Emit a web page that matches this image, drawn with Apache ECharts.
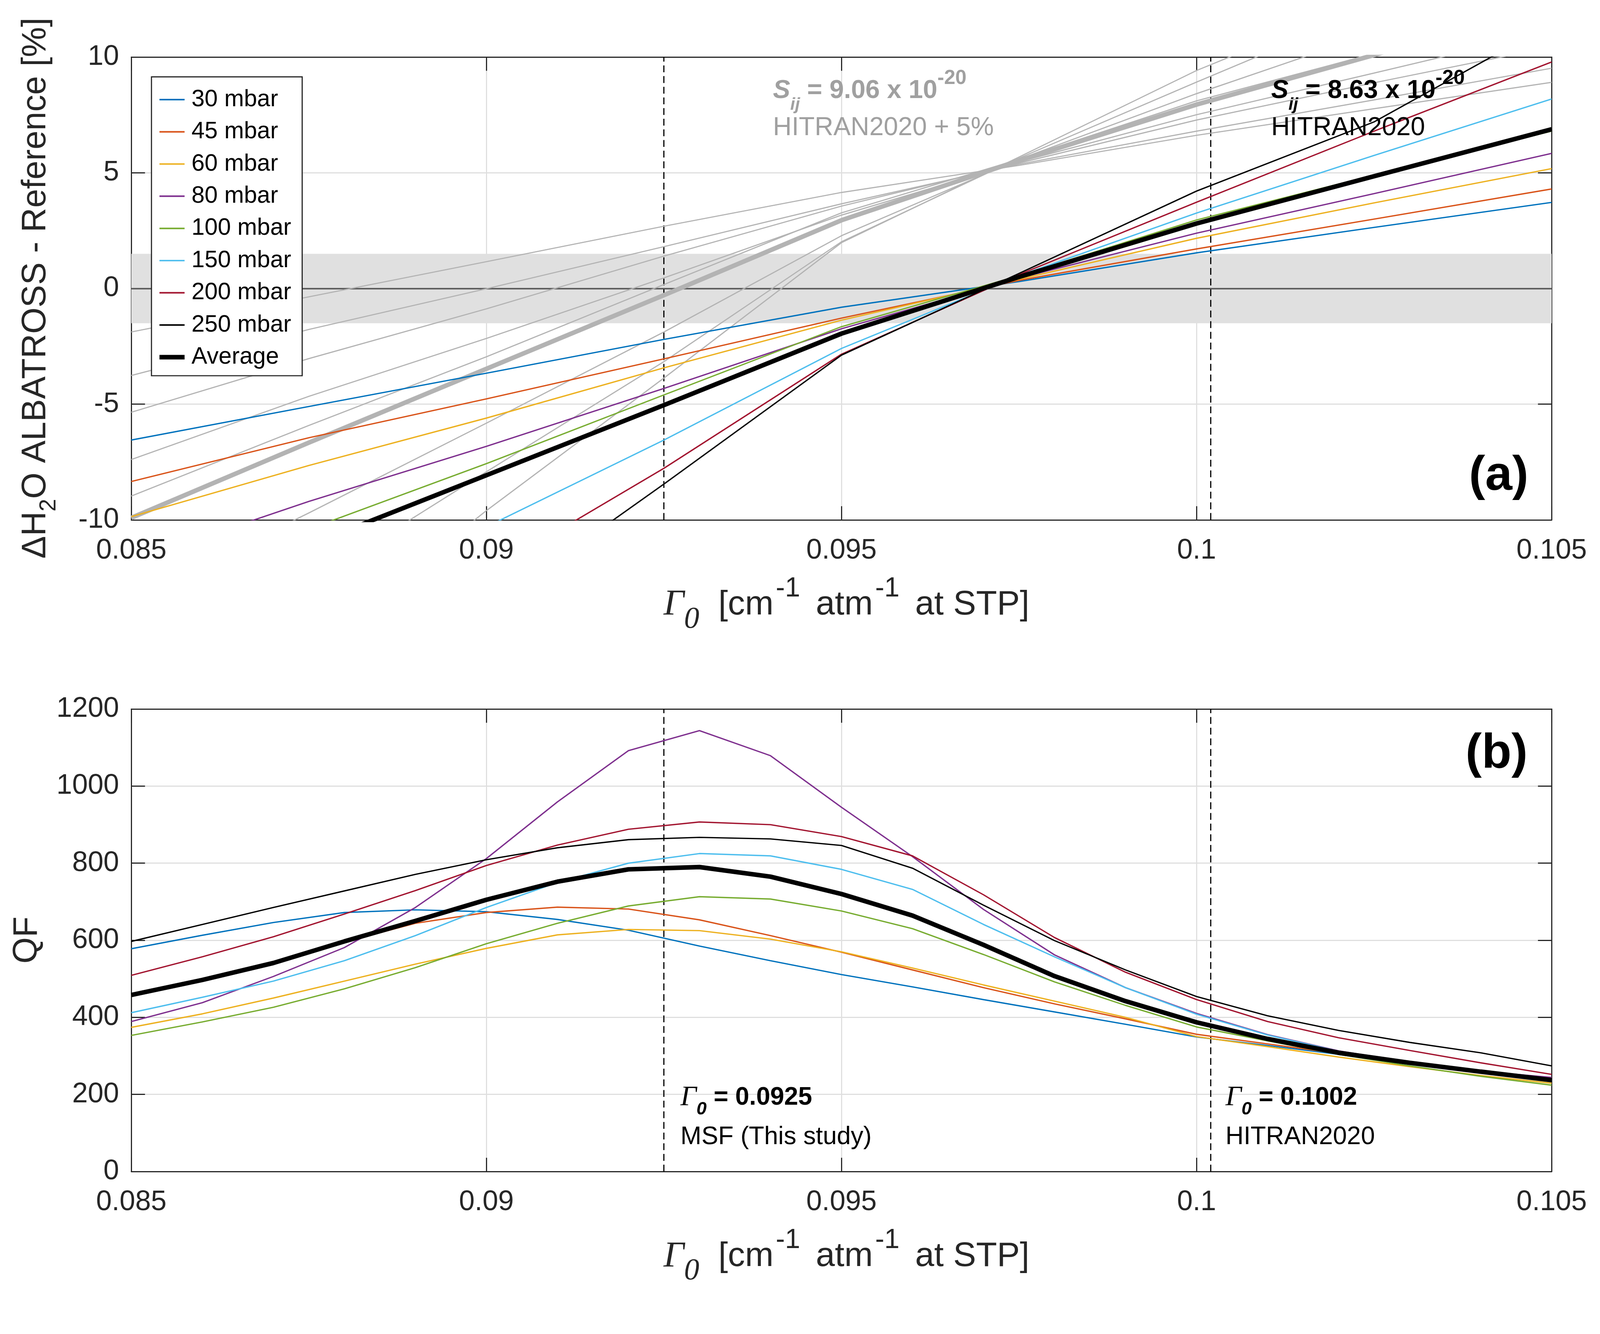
<!DOCTYPE html>
<html>
<head>
<meta charset="utf-8">
<script src="https://cdn.jsdelivr.net/npm/echarts/dist/echarts.min.js"></script>
<style>
html,body{margin:0;padding:0;background:#ffffff;overflow:hidden;}
#chart{position:absolute;left:0;top:0;}
</style>
</head>
<body>
<div id="chart"></div>
<script>
// ---------------- DATA ----------------
const seriesNames = ['30 mbar','45 mbar','60 mbar','80 mbar','100 mbar','150 mbar','200 mbar','250 mbar','Average'];
const lineColors = ['#0072BD','#D95319','#EDB120','#7E2F8E','#77AC30','#4DBEEE','#A2142F','#000000','#000000'];

// Panel (a): x positions (Gamma0) and Delta H2O [%] for S_ij = 8.63e-20 (HITRAN2020)
const gammaA = [0.085, 0.0875, 0.09, 0.0925, 0.095, 0.0975, 0.1, 0.1025, 0.105];
const dHit30  = [-6.55, -5.10, -3.66, -2.20, -0.81, 0.30, 1.54, 2.64, 3.72];
const dHit45  = [-8.34, -6.45, -4.77, -3.04, -1.28, 0.35, 1.71, 3.00, 4.30];
const dHit60  = [-9.86, -7.65, -5.60, -3.43, -1.37, 0.40, 2.17, 3.70, 5.18];
const dHit80  = [-11.8, -9.20, -6.82, -4.32, -1.74, 0.45, 2.39, 4.10, 5.84];
const dHit100 = [-13.3, -10.4, -7.57, -4.60, -1.65, 0.55, 2.96, 4.90, 6.80];
const dHit150 = [-17.6, -14.0, -10.3, -6.55, -2.59, 0.55, 3.26, 5.75, 8.19];
const dHit200 = [-21.5, -16.9, -12.3, -7.77, -2.84, 0.60, 3.73, 6.80, 9.79];
const dHit250 = [-25.3, -19.7, -13.9, -8.45, -2.88, 0.65, 4.21, 7.20, 11.45];
const dHitAvg = [-14.2, -11.1, -8.07, -5.04, -1.95, 0.50, 2.81, 4.85, 6.88];

// Panel (a): S_ij = 9.06e-20 (HITRAN2020 + 5%), grey curves
const dP5_30  = [-1.88, -0.36, 1.16, 2.69, 4.15, 5.32, 6.62, 7.77, 8.91];
const dP5_45  = [-3.76, -1.77, -0.01, 1.81, 3.66, 5.37, 6.80, 8.15, 9.52];
const dP5_60  = [-5.35, -3.03, -0.88, 1.40, 3.56, 5.42, 7.28, 8.89, 10.44];
const dP5_80  = [-7.39, -4.66, -2.16, 0.46, 3.17, 5.47, 7.51, 9.31, 11.13];
const dP5_100 = [-8.97, -5.92, -2.95, 0.17, 3.27, 5.58, 8.11, 10.15, 12.14];
const dP5_150 = [-13.48, -9.70, -5.82, -1.88, 2.28, 5.58, 8.42, 11.04, 13.60];
const dP5_200 = [-17.58, -12.75, -7.92, -3.16, 2.02, 5.63, 8.92, 12.14, 15.28];
const dP5_250 = [-21.57, -15.69, -9.60, -3.87, 1.98, 5.68, 9.42, 12.56, 17.02];
const dP5_Avg = [-9.91, -6.66, -3.47, -0.29, 2.95, 5.53, 7.95, 10.09, 12.22];

// Panel (b): QF
const gammaB = [0.085, 0.086, 0.087, 0.088, 0.089, 0.090, 0.091, 0.092, 0.093, 0.094, 0.095,
                0.096, 0.097, 0.098, 0.099, 0.100, 0.101, 0.102, 0.103, 0.104, 0.105];
const qf30  = [578, 613, 646, 672, 679, 674, 654, 626, 585, 547, 511, 479, 446, 414, 382, 349, 327, 304, 282, 259, 239];
const qf45  = [458, 497, 541, 595, 644, 672, 686, 681, 653, 612, 569, 523, 477, 435, 396, 356, 331, 306, 282, 260, 243];
const qf60  = [374, 409, 450, 494, 538, 579, 614, 628, 625, 603, 570, 528, 484, 442, 400, 350, 324, 297, 272, 249, 229];
const qf80  = [389, 438, 506, 581, 685, 812, 959, 1092, 1144, 1079, 945, 817, 680, 562, 477, 410, 355, 313, 283, 260, 244];
const qf100 = [353, 388, 426, 474, 529, 591, 644, 689, 713, 707, 676, 630, 563, 492, 431, 375, 339, 304, 274, 247, 224];
const qf150 = [412, 452, 494, 547, 612, 685, 750, 800, 825, 819, 784, 732, 641, 557, 477, 408, 354, 312, 282, 259, 236];
const qf200 = [509, 557, 609, 668, 729, 794, 847, 888, 907, 900, 869, 819, 718, 607, 517, 446, 389, 347, 314, 282, 252];
const qf250 = [597, 641, 685, 728, 771, 809, 840, 861, 867, 863, 846, 787, 691, 599, 523, 454, 404, 366, 335, 308, 274];
const qfAvg = [458, 497, 541, 597, 650, 705, 752, 784, 790, 765, 720, 664, 588, 507, 442, 387, 344, 308, 282, 259, 237];

// Axes / reference marks
const xTickLabels = ['0.085', '0.09', '0.095', '0.1', '0.105'];
const yTickLabelsA = ['-10', '-5', '0', '5', '10'];
const yTickLabelsB = ['0', '200', '400', '600', '800', '1000', '1200'];
const gammaMarks = [0.0925, 0.1002];
const bandLimits = [-1.5, 1.5];

// ---------------- LAYOUT / STYLE ----------------
const BASE_W = 4204, BASE_H = 3415;
const vw = window.innerWidth || BASE_W, vh = window.innerHeight || BASE_H;
const sc = Math.min(vw / BASE_W, vh / BASE_H);
const P = v => v * sc;

const SANS = '"Liberation Sans", Arial, Helvetica, sans-serif';
const SERIF = '"Liberation Serif", "Times New Roman", serif';
const AX = '#262626';
const GRID = '#dfdfdf';
const GREY = '#b3b3b3';
const PL = 345, PW = 3732;
const A_TOP = 150, A_H = 1216;
const B_TOP = 1863, B_H = 1215;

const dom = document.getElementById('chart');
dom.style.width = Math.round(P(BASE_W)) + 'px';
dom.style.height = Math.round(P(BASE_H)) + 'px';

const hitArrays = [dHit30, dHit45, dHit60, dHit80, dHit100, dHit150, dHit200, dHit250, dHitAvg];
const p5Arrays = [dP5_30, dP5_45, dP5_60, dP5_80, dP5_100, dP5_150, dP5_200, dP5_250, dP5_Avg];
const qfArrays = [qf30, qf45, qf60, qf80, qf100, qf150, qf200, qf250, qfAvg];

const pairs = (xs, ys) => xs.map((x, i) => [x, ys[i]]);

function xAxisPair(gi) {
  const common = {
    type: 'value', gridIndex: gi, min: 0.085, max: 0.105, interval: 0.005,
    axisLine: { show: true, onZero: false, lineStyle: { color: AX, width: P(3) } },
    axisTick: { show: true, inside: true, length: P(36), lineStyle: { color: AX, width: P(3) } }
  };
  return [
    Object.assign({}, common, {
      position: 'bottom',
      axisLabel: {
        show: true, margin: P(44), fontSize: P(74), fontFamily: SANS, color: AX,
        showMinLabel: true, showMaxLabel: true,
        formatter: v => xTickLabels[Math.round((v - 0.085) / 0.005)]
      },
      splitLine: { show: true, lineStyle: { color: GRID, width: P(3) } }
    }),
    Object.assign({}, common, {
      position: 'top',
      axisLabel: { show: false },
      splitLine: { show: false }
    })
  ];
}
function yAxisPair(gi, min, max, step, labels) {
  const common = {
    type: 'value', gridIndex: gi, min: min, max: max, interval: step,
    axisLine: { show: true, onZero: false, lineStyle: { color: AX, width: P(3) } },
    axisTick: { show: true, inside: true, length: P(36), lineStyle: { color: AX, width: P(3) } }
  };
  return [
    Object.assign({}, common, {
      position: 'left',
      axisLabel: {
        show: true, margin: P(32), fontSize: P(74), fontFamily: SANS, color: AX,
        showMinLabel: true, showMaxLabel: true,
        formatter: v => labels[Math.round((v - min) / step)]
      },
      splitLine: { show: true, lineStyle: { color: GRID, width: P(3) } }
    }),
    Object.assign({}, common, {
      position: 'right',
      axisLabel: { show: false },
      splitLine: { show: false }
    })
  ];
}

const dash = [P(18), P(10)];
const series = [];
// grey (HITRAN2020 + 5%) curves in panel (a)
p5Arrays.forEach((arr, i) => {
  series.push({
    name: 'grey ' + seriesNames[i], type: 'line', xAxisIndex: 0, yAxisIndex: 0,
    data: pairs(gammaA, arr), symbol: 'none', silent: true, z: 2, clip: true,
    lineStyle: { color: GREY, width: P(i === 8 ? 12 : 3) }, itemStyle: { color: GREY }
  });
});
// coloured curves panel (a)
hitArrays.forEach((arr, i) => {
  const s = {
    name: seriesNames[i], type: 'line', xAxisIndex: 0, yAxisIndex: 0,
    data: pairs(gammaA, arr), symbol: 'none', silent: true, z: i === 8 ? 4 : 3, clip: true,
    lineStyle: { color: lineColors[i], width: P(i === 8 ? 12 : 3.5) }, itemStyle: { color: lineColors[i] }
  };
  if (i === 0) {
    s.markArea = {
      silent: true, z: 1,
      itemStyle: { color: '#e0e0e0' },
      label: { show: false },
      data: [[{ yAxis: bandLimits[0] }, { yAxis: bandLimits[1] }]]
    };
    s.markLine = {
      silent: true, z: 2, symbol: 'none', animation: false, precision: 6,
      label: { show: false },
      data: [
        { yAxis: 0, lineStyle: { color: '#5f5f5f', width: P(4), type: 'solid' } },
        { xAxis: gammaMarks[0], lineStyle: { color: '#000', width: P(3), type: dash } },
        { xAxis: gammaMarks[1], lineStyle: { color: '#000', width: P(3), type: dash } }
      ]
    };
  }
  series.push(s);
});
// coloured curves panel (b)
qfArrays.forEach((arr, i) => {
  const s = {
    name: seriesNames[i], type: 'line', xAxisIndex: 2, yAxisIndex: 2,
    data: pairs(gammaB, arr), symbol: 'none', silent: true, z: i === 8 ? 4 : 3, clip: true,
    lineStyle: { color: lineColors[i], width: P(i === 8 ? 12 : 3.5) }, itemStyle: { color: lineColors[i] }
  };
  if (i === 0) {
    s.markLine = {
      silent: true, z: 2, symbol: 'none', animation: false, precision: 6,
      label: { show: false },
      data: [
        { xAxis: gammaMarks[0], lineStyle: { color: '#000', width: P(3), type: dash } },
        { xAxis: gammaMarks[1], lineStyle: { color: '#000', width: P(3), type: dash } }
      ]
    };
  }
  series.push(s);
});

const xA = xAxisPair(0), xB = xAxisPair(1);
const yA = yAxisPair(0, -10, 10, 5, yTickLabelsA);
const yB = yAxisPair(1, 0, 1200, 200, yTickLabelsB);

// rich text helpers
const xTitleRich = {
  g:   { fontFamily: SERIF, fontStyle: 'italic', fontSize: P(95), lineHeight: P(157), fill: AX },
  sub: { fontFamily: SERIF, fontStyle: 'italic', fontSize: P(80), lineHeight: P(58), verticalAlign: 'bottom', fill: AX },
  m:   { fontFamily: SANS, fontSize: P(90), lineHeight: P(157), fill: AX },
  sup: { fontFamily: SANS, fontSize: P(72), lineHeight: P(72), verticalAlign: 'top', fill: AX, padding: [0, P(16), 0, P(6)] }
};
const xTitleText = '{g|Γ}{sub|0}{m|  [cm}{sup|-1}{m| atm}{sup|-1}{m| at STP]}';

function sijRich(col) {
  return {
    si:  { fontFamily: SANS, fontStyle: 'italic', fontWeight: 'bold', fontSize: P(68), lineHeight: P(120), fill: col },
    sub: { fontFamily: SANS, fontStyle: 'italic', fontWeight: 'bold', fontSize: P(46), lineHeight: P(44), verticalAlign: 'bottom', fill: col },
    b:   { fontFamily: SANS, fontWeight: 'bold', fontSize: P(68), lineHeight: P(120), fill: col },
    sup: { fontFamily: SANS, fontWeight: 'bold', fontSize: P(53), lineHeight: P(62), verticalAlign: 'top', fill: col }
  };
}
const gammaRich = {
  g:   { fontFamily: SERIF, fontStyle: 'italic', fontSize: P(74), lineHeight: P(110), fill: '#000' },
  sub: { fontFamily: SANS, fontStyle: 'italic', fontWeight: 'bold', fontSize: P(48), lineHeight: P(32), verticalAlign: 'bottom', fill: '#000' },
  b:   { fontFamily: SANS, fontWeight: 'bold', fontSize: P(66), lineHeight: P(110), fill: '#000' }
};

function txt(x, y, style, extra) {
  return Object.assign({ type: 'text', x: P(x), y: P(y), z: 100, silent: true, style: style }, extra || {});
}

const graphic = [
  // x-axis titles
  txt(2224, 1590, { text: xTitleText, rich: xTitleRich, align: 'center', verticalAlign: 'middle' }),
  txt(2224, 3302, { text: xTitleText, rich: xTitleRich, align: 'center', verticalAlign: 'middle' }),
  // y-axis titles
  txt(95, 757, {
      text: '{m|ΔH}{sub|2}{m|O ALBATROSS - Reference [%]}',
      rich: {
        m: { fontFamily: SANS, fontSize: P(89), lineHeight: P(128), fill: AX },
        sub: { fontFamily: SANS, fontSize: P(60), lineHeight: P(20), verticalAlign: 'bottom', fill: AX }
      },
      align: 'center', verticalAlign: 'middle'
    }, { rotation: Math.PI / 2 }),
  txt(72, 2470, { text: 'QF', fontFamily: SANS, fontSize: P(89), fill: AX, align: 'center', verticalAlign: 'middle' },
      { rotation: Math.PI / 2 }),
  // panel labels
  txt(4016, 1252, { text: '(a)', fontFamily: SANS, fontWeight: 'bold', fontSize: P(128), fill: '#000', align: 'right', verticalAlign: 'middle' }),
  txt(4014, 1982, { text: '(b)', fontFamily: SANS, fontWeight: 'bold', fontSize: P(128), fill: '#000', align: 'right', verticalAlign: 'middle' }),
  // S_ij annotations (panel a)
  txt(2031, 239, { text: '{si|S}{sub|ij}{b| = 9.06 x 10}{sup|-20}', rich: sijRich('#a0a0a0'), align: 'left', verticalAlign: 'middle' }),
  txt(2031, 336, { text: 'HITRAN2020 + 5%', fontFamily: SANS, fontSize: P(68), fill: '#a0a0a0', align: 'left', verticalAlign: 'middle' }),
  txt(3340, 239, { text: '{si|S}{sub|ij}{b| = 8.63 x 10}{sup|-20}', rich: sijRich('#000000'), align: 'left', verticalAlign: 'middle' }),
  txt(3340, 336, { text: 'HITRAN2020', fontFamily: SANS, fontSize: P(68), fill: '#000', align: 'left', verticalAlign: 'middle' }),
  // Gamma0 annotations (panel b)
  txt(1788, 2884, { text: '{g|Γ}{sub|0}{b| = 0.0925}', rich: gammaRich, align: 'left', verticalAlign: 'middle' }),
  txt(1788, 2988, { text: 'MSF (This study)', fontFamily: SANS, fontSize: P(66), fill: '#000', align: 'left', verticalAlign: 'middle' }),
  txt(3220, 2884, { text: '{g|Γ}{sub|0}{b| = 0.1002}', rich: gammaRich, align: 'left', verticalAlign: 'middle' }),
  txt(3220, 2988, { text: 'HITRAN2020', fontFamily: SANS, fontSize: P(66), fill: '#000', align: 'left', verticalAlign: 'middle' })
];

const legendData = seriesNames.map((n, i) => ({
  name: n,
  icon: i === 8 ? 'path://M0,0H66V12H0Z' : 'path://M0,0H66V4H0Z',
  itemStyle: { color: lineColors[i], borderWidth: 0 }
}));

const option = {
  backgroundColor: '#ffffff',
  animation: false,
  textStyle: { fontFamily: SANS },
  grid: [
    { left: P(PL), top: P(A_TOP), width: P(PW), height: P(A_H), containLabel: false, outerBoundsMode: 'none' },
    { left: P(PL), top: P(B_TOP), width: P(PW), height: P(B_H), containLabel: false, outerBoundsMode: 'none' }
  ],
  xAxis: [xA[0], xA[1], xB[0], xB[1]],
  yAxis: [yA[0], yA[1], yB[0], yB[1]],
  legend: {
    data: legendData, orient: 'vertical', left: P(398), top: P(202),
    padding: [P(29), P(29), P(18), P(21)], itemGap: P(23), itemWidth: P(66), itemHeight: P(20),
    symbolKeepAspect: true, selectedMode: false,
    backgroundColor: '#ffffff', borderColor: AX, borderWidth: P(3), borderRadius: 0,
    textStyle: { fontSize: P(62), fontFamily: SANS, color: '#000', lineHeight: P(60), padding: [0, 0, 0, P(13)] },
    z: 50
  },
  graphic: graphic,
  series: series
};

const chart = echarts.init(dom, null, { renderer: 'canvas' });
chart.setOption(option);
</script>
</body>
</html>
